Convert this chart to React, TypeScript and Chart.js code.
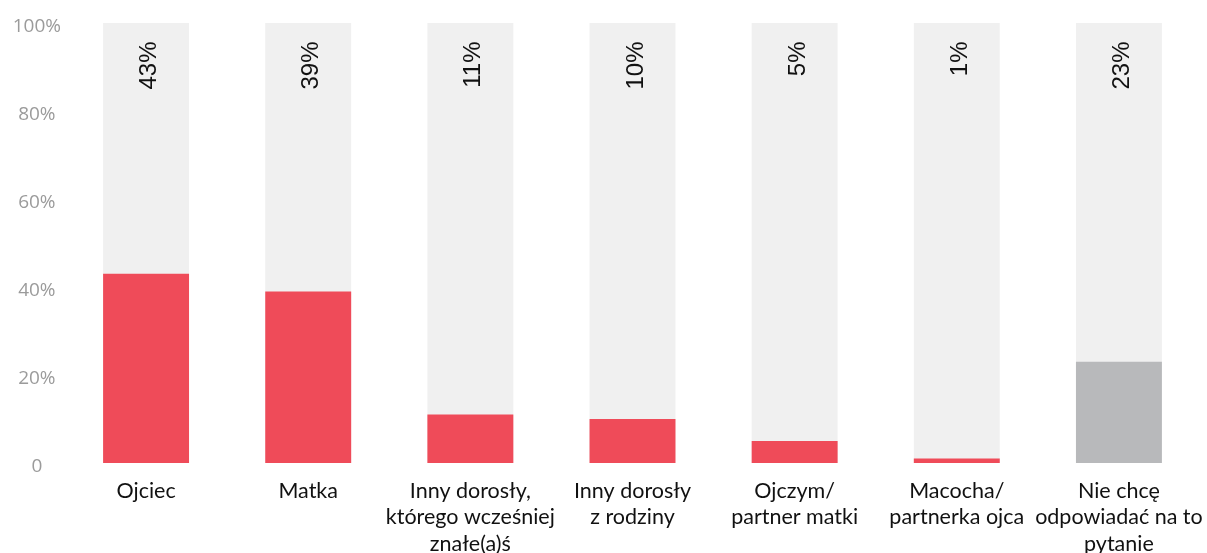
import React, { useEffect, useRef } from "react";
import { Chart, registerables } from "chart.js";

Chart.register(...registerables);

const categories: string[][] = [
  ["Ojciec"],
  ["Matka"],
  ["Inny dorosły,", "którego wcześniej", "znałe(a)ś"],
  ["Inny dorosły", "z rodziny"],
  ["Ojczym/", "partner matki"],
  ["Macocha/", "partnerka ojca"],
  ["Nie chcę", "odpowiadać na to", "pytanie"],
];
const values: number[] = [43, 39, 11, 10, 5, 1, 23];
const fullScale: number[] = [100, 100, 100, 100, 100, 100, 100];
const valueLabels: string[] = ["43%", "39%", "11%", "10%", "5%", "1%", "23%"];
const barColors: string[] = ["#ef4b59", "#ef4b59", "#ef4b59", "#ef4b59", "#ef4b59", "#ef4b59", "#b8b9bb"];
const yTicks: number[] = [0, 20, 40, 60, 80, 100];

const valueLabelPlugin = {
  id: "valueLabels",
  afterDatasetsDraw(chart: any) {
    const ctx = chart.ctx;
    const meta = chart.getDatasetMeta(0);
    const yScale = chart.scales.y;
    const top = yScale.getPixelForValue(100);
    ctx.save();
    ctx.fillStyle = "#111111";
    ctx.font = "24px 'Liberation Sans', Arial, sans-serif";
    ctx.textAlign = "right";
    ctx.textBaseline = "middle";
    meta.data.forEach((bar: any, i: number) => {
      ctx.save();
      ctx.translate(bar.x + 3.5, top + 18.5);
      ctx.rotate(-Math.PI / 2);
      ctx.fillText(valueLabels[i], 0, 0);
      ctx.restore();
    });
    ctx.restore();
  },
};

export default function App() {
  const canvasRef = useRef<HTMLCanvasElement | null>(null);

  useEffect(() => {
    if (!canvasRef.current) return;
    const chart = new Chart(canvasRef.current, {
      type: "bar",
      data: {
        labels: categories,
        datasets: [
          {
            data: values,
            backgroundColor: barColors,
            grouped: false,
            barPercentage: 0.53,
            categoryPercentage: 1,
          },
          {
            data: fullScale,
            backgroundColor: "#f0f0f0",
            grouped: false,
            barPercentage: 0.53,
            categoryPercentage: 1,
          },
        ],
      } as any,
      options: {
        animation: false,
        responsive: true,
        maintainAspectRatio: false,
        layout: { padding: { top: 23, right: 7, left: 0, bottom: 0 } },
        plugins: {
          legend: { display: false },
          tooltip: { enabled: false },
        },
        scales: {
          x: {
            grid: { display: false, drawTicks: false },
            border: { display: false },
            ticks: {
              autoSkip: false,
              maxRotation: 0,
              minRotation: 0,
              padding: 15,
              color: "#111111",
              font: { family: "Lato", size: 21.5, lineHeight: 1.22 },
            },
            afterFit(axis: any) {
              axis.height = 90;
              axis.paddingLeft = 0;
              axis.paddingRight = 0;
            },
          },
          y: {
            min: 0,
            max: 100,
            grid: { display: false, drawTicks: false },
            border: { display: false },
            afterBuildTicks(axis: any) {
              axis.ticks = yTicks.map((v) => ({ value: v }));
            },
            afterFit(axis: any) {
              axis.width = 65;
              axis.paddingTop = 0;
              axis.paddingBottom = 0;
            },
            ticks: {
              padding: 4,
              crossAlign: "center",
              labelOffset: 4,
              color: "#9b9b9b",
              font: { family: "'Open Sans'", size: 19 },
              callback: (v: any) => (Number(v) === 0 ? "0" : v + "%"),
            },
          },
        },
      } as any,
      plugins: [valueLabelPlugin],
    });
    return () => chart.destroy();
  }, []);

  return (
    <div style={{ position: "fixed", left: 0, top: 0, width: 1207, height: 553, background: "#ffffff" }}>
      <canvas ref={canvasRef} />
    </div>
  );
}
